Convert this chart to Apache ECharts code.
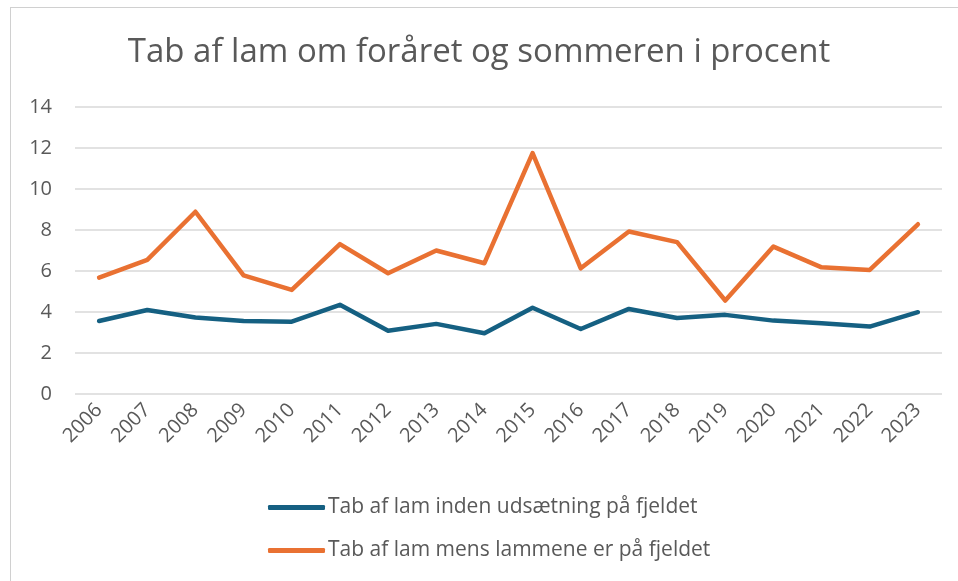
<!DOCTYPE html>
<html>
<head>
<meta charset="utf-8">
<script src="https://cdn.jsdelivr.net/npm/echarts@6/dist/echarts.min.js"></script>
<style>
  html, body { margin: 0; padding: 0; background: #fff; }
  #frame { position: absolute; left: 10px; top: 7px; width: 960px; height: 590px;
           border-top: 1px solid #d0d0d0; border-left: 1px solid #d0d0d0; }
  #main { position: absolute; left: 0; top: 0; width: 958px; height: 581px; }
</style>
</head>
<body>
<div id="frame"></div>
<div id="main"></div>
<script>
// data
var years = ['2006', '2007', '2008', '2009', '2010', '2011', '2012', '2013', '2014',
             '2015', '2016', '2017', '2018', '2019', '2020', '2021', '2022', '2023'];
var foerUdsaetning = [3.56, 4.10, 3.73, 3.56, 3.53, 4.35, 3.09, 3.42, 2.96,
                      4.21, 3.17, 4.15, 3.71, 3.86, 3.58, 3.45, 3.29, 3.99];
var paaFjeldet = [5.68, 6.54, 8.89, 5.79, 5.08, 7.31, 5.89, 7.00, 6.38,
                  11.75, 6.13, 7.93, 7.41, 4.56, 7.19, 6.18, 6.05, 8.28];
var yTicks = [0, 14, 2]; // min, max, step

var Chart = echarts.init(document.getElementById('main'));
var txt = '#595959';

var option = {
  backgroundColor: 'transparent',
  color: ['#156082', '#E97132'],
  title: {
    text: 'Tab af lam om foråret og sommeren i procent',
    left: 'center',
    top: 31,
    textStyle: { color: txt, fontSize: 33, fontWeight: 'normal', fontFamily: 'Open Sans' }
  },
  grid: { left: 75, right: 16, top: 107, bottom: 187 },
  legend: {
    orient: 'vertical',
    left: 263,
    top: 492,
    itemGap: 22,
    itemWidth: 57,
    itemHeight: 5,
    icon: 'roundRect',
    textStyle: { color: txt, fontSize: 21, fontFamily: 'Open Sans', padding: [0, 0, 0, -2] }
  },
  xAxis: {
    type: 'category',
    data: years,
    boundaryGap: true,
    axisLine: { show: false },
    axisTick: { show: false },
    axisLabel: { rotate: 45, color: txt, fontSize: 20, fontFamily: 'Open Sans', margin: 13 }
  },
  yAxis: {
    type: 'value',
    min: yTicks[0],
    max: yTicks[1],
    interval: yTicks[2],
    axisLine: { show: false },
    axisTick: { show: false },
    axisLabel: { color: txt, fontSize: 20, fontFamily: 'Open Sans', margin: 23 },
    splitLine: { lineStyle: { color: '#d9d9d9', width: 1.5 } }
  },
  series: [
    {
      name: 'Tab af lam inden udsætning på fjeldet',
      type: 'line',
      data: foerUdsaetning,
      symbol: 'none',
      lineStyle: { width: 4.5, cap: 'round', join: 'round' }
    },
    {
      name: 'Tab af lam mens lammene er på fjeldet',
      type: 'line',
      data: paaFjeldet,
      symbol: 'none',
      lineStyle: { width: 4.5, cap: 'round', join: 'round' }
    }
  ]
};
Chart.setOption(option);
</script>
</body>
</html>
